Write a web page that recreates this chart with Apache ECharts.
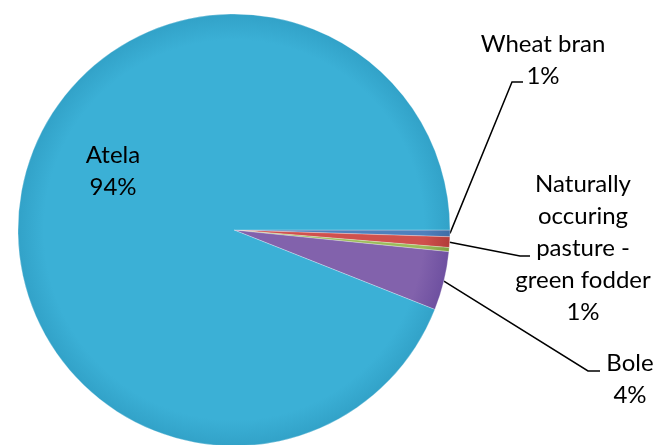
<!DOCTYPE html>
<html>
<head>
<meta charset="utf-8">
<script src="https://cdn.jsdelivr.net/npm/echarts@6/dist/echarts.min.js"></script>
<style>
  html, body { margin: 0; padding: 0; background: #fff; }
  #chart { width: 656px; height: 445px; }
</style>
</head>
<body>
<div id="chart"></div>
<script>
// Feed sources, share of total (%), drawn clockwise from 3 o'clock
const categories = ['Wheat bran', 'Naturally occuring pasture - green fodder', 'Other feed', 'Bole', 'Atela'];
const shares = [0.5, 0.8, 0.3, 4.4, 94.0];
const labelNames = ['Wheat bran', 'Naturally\noccuring\npasture -\ngreen fodder', '', 'Bole', 'Atela'];
const showLabel = [true, true, false, true, true];
const colors = ['#4F81BD', '#D0504D', '#9BBB59', '#8262AC', '#3BB0D6'];
const edgeColors = ['#3F6DA5', '#B23C39', '#7FA040', '#6E50A0', '#32A2C8'];

const CX = 234, CY = 230, R = 216;

// where each label block sits, and the elbow of its leader line
const labelSpots = [
  { x: 543, y: 60, elbow: [512, 82], end: [523, 82] },
  { x: 583, y: 248, elbow: [520, 256], end: [530, 256] },
  null,
  { x: 630, y: 379, elbow: [588, 371], end: [600, 371] },
  { x: 113, y: 171, elbow: null, end: null }
];

const total = shares.reduce((a, b) => a + b, 0);

const data = categories.map((name, i) => ({
  name: name,
  value: shares[i],
  itemStyle: {
    color: {
      type: 'radial', x: CX, y: CY, r: R, global: true,
      colorStops: [
        { offset: 0, color: colors[i] },
        { offset: 0.88, color: colors[i] },
        { offset: 1, color: edgeColors[i] }
      ]
    }
  },
  label: { show: showLabel[i], position: i === 4 ? 'inside' : 'outside' },
  labelLine: { show: showLabel[i] && i !== 4 }
}));

const chart = echarts.init(document.getElementById('chart'), null, { renderer: 'canvas' });
chart.setOption({
  animation: false,
  series: [{
    type: 'pie',
    center: [CX, CY],
    radius: [0, R],
    startAngle: 0,
    clockwise: true,
    avoidLabelOverlap: false,
    data: data,
    itemStyle: {
      borderColor: 'rgba(255,255,255,0.35)',
      borderWidth: 0.8
    },
    label: {
      formatter: p => labelNames[p.dataIndex] + '\n' + Math.round(p.value / total * 100) + '%',
      fontFamily: 'Lato',
      fontSize: 24,
      lineHeight: 32,
      color: '#000',
      align: 'center'
    },
    labelLine: {
      show: true,
      length: 20,
      length2: 10,
      lineStyle: { color: '#000', width: 1.5 }
    },
    labelLayout: function (params) {
      const spot = labelSpots[params.dataIndex];
      if (!spot) return {};
      const out = { x: spot.x, y: spot.y, align: 'center', verticalAlign: 'middle' };
      if (spot.elbow && params.labelLinePoints) {
        out.labelLinePoints = [params.labelLinePoints[0], spot.elbow, spot.end];
      }
      return out;
    }
  }]
});
</script>
</body>
</html>
